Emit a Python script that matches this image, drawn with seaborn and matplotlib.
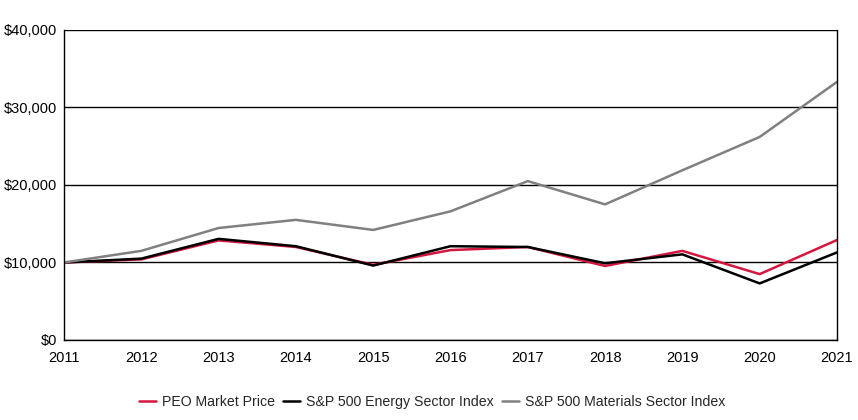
import seaborn as sns
import pandas as pd
import matplotlib.pyplot as plt
from matplotlib.ticker import FuncFormatter

years = [2011, 2012, 2013, 2014, 2015, 2016, 2017, 2018, 2019, 2020, 2021]
peo = [10000, 10400, 12850, 12000, 9700, 11600, 12000, 9550, 11500, 8500, 12900]
energy = [10000, 10500, 13050, 12100, 9600, 12100, 12000, 9900, 11050, 7300, 11300]
materials = [10000, 11500, 14450, 15500, 14200, 16600, 20500, 17500, 21900, 26200, 33300]

series = ["PEO Market Price", "S&P 500 Energy Sector Index", "S&P 500 Materials Sector Index"]
colors = ["#d5173f", "#000000", "#808080"]

df = pd.DataFrame({"year": years, series[0]: peo, series[1]: energy, series[2]: materials})
df = df.melt(id_vars="year", var_name="series", value_name="value")

sns.set_style("white")
plt.rcParams['font.family'] = ['Liberation Sans', 'DejaVu Sans']

fig = plt.figure(figsize=(8.58, 4.2), dpi=100)
ax = fig.add_axes([0.0746, 0.1905, 0.9009, 0.7381])
sns.lineplot(data=df, x="year", y="value", hue="series", hue_order=series,
             palette=colors, linewidth=1.8, ax=ax)

ax.set_xlim(2011, 2021)
ax.set_ylim(0, 40000)
ax.set_xticks(years)
ax.set_yticks([0, 10000, 20000, 30000, 40000])
ax.yaxis.set_major_formatter(FuncFormatter(lambda v, p: f"${v:,.0f}"))
ax.grid(axis="y", color="black", linewidth=1)
ax.set_axisbelow(True)
for s in ["left", "right", "bottom", "top"]:
    ax.spines[s].set_color("black")
    ax.spines[s].set_linewidth(1)
ax.spines["top"].set_visible(False)
ax.tick_params(axis="both", labelsize=10.5, length=0, colors="black")
ax.tick_params(axis="y", pad=5)
ax.tick_params(axis="x", pad=8)
ax.set_xlabel("")
ax.set_ylabel("")

ax.legend(loc="upper center", bbox_to_anchor=(0.476, -0.135), ncol=3, frameon=False,
          fontsize=10.2, handlelength=1.2, columnspacing=0.6, handletextpad=0.4)

fig.savefig("out.png", dpi=100)
